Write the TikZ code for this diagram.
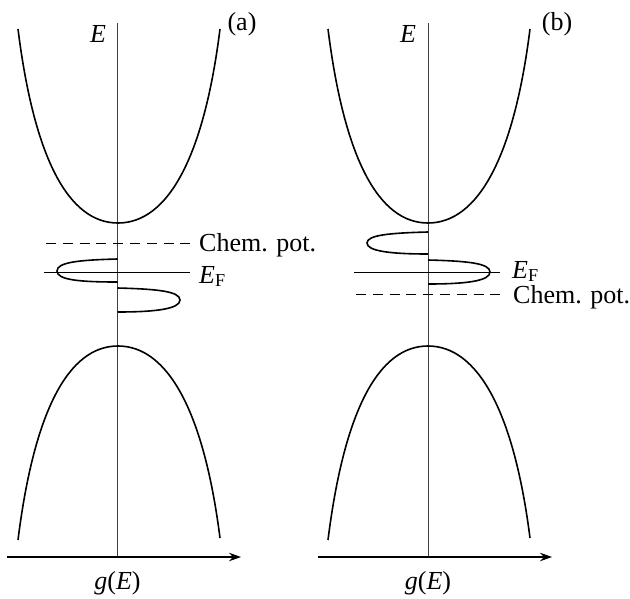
\documentclass[tikz,border=0pt]{standalone}
\usepackage{fontspec}
\setmainfont{Liberation Serif}
\usetikzlibrary{arrows.meta}
\begin{document}
\begin{tikzpicture}[
    x=1pt, y=-1pt,
    band/.style={line width=1.6pt},
    dos/.style={line width=1.6pt},
    level/.style={line width=0.9pt},
    chempot/.style={line width=0.9pt, dash pattern=on 10pt off 6.8pt},
    eaxis/.style={line width=0.9pt, black!75},
    gaxis/.style={line width=1.2pt, -{Stealth[length=12pt, width=8.5pt]}},
    lbl/.style={font=\fontsize{26}{30}\selectfont, inner sep=0pt}
]
    \useasboundingbox (0,0) rectangle (630,598);

    % Panel (a)
    \coordinate (aTop) at (117.5,23);
    \coordinate (aBot) at (117.5,557);
    \coordinate (aL) at (7,557);
    \coordinate (aR) at (241,557);
    \draw[eaxis] (aTop) -- (aBot);
    \draw[gaxis] (aL) -- (aR);
    \draw[band] (18,29) .. controls (34,157) and (68,223) .. (118,223) .. controls (168,223) and (204,157) .. (220,29);
    \draw[band] (18,540) .. controls (34,412) and (68,346) .. (118,346) .. controls (168,346) and (204,412) .. (220,538);
    \draw[dos] (117.5,259) .. controls (80,260) and (57,262) .. (57,271) .. controls (57,280) and (80,282) .. (117.5,282);
    \draw[dos] (117.5,288) .. controls (155,289) and (180,291) .. (180,300) .. controls (180,309) and (155,312) .. (117.5,312);
    \coordinate (aMl) at (46,243);
    \coordinate (aMr) at (190,243);
    \coordinate (aFl) at (44,272);
    \coordinate (aFr) at (190,272);
    \draw[chempot] (aMl) -- (aMr);
    \draw[level] (aFl) -- (aFr);
    \node[lbl, anchor=base west] (aMu) at (199,251) {Chem. pot.};
    \node[lbl, anchor=base west] (aEF) at (199,283) {\textit{E}\textsubscript{F}};
    \node[lbl, anchor=base] (aE) at (98,42) {\textit{E}};
    \node[lbl] (aTag) at (242,24) {(a)};
    \node[lbl] (aG) at (117.5,583) {\textit{g}(\textit{E})};

    % Panel (b)
    \coordinate (bTop) at (428,23);
    \coordinate (bBot) at (428,557);
    \coordinate (bL) at (318,557);
    \coordinate (bR) at (552,557);
    \draw[eaxis] (bTop) -- (bBot);
    \draw[gaxis] (bL) -- (bR);
    \draw[band] (328,29) .. controls (344,157) and (378,223) .. (428,223) .. controls (478,223) and (514,157) .. (530,29);
    \draw[band] (328,540) .. controls (344,412) and (378,346) .. (428,346) .. controls (478,346) and (514,412) .. (530,538);
    \draw[dos] (428,232) .. controls (390,233) and (367,235) .. (367,243) .. controls (367,251) and (390,254) .. (428,254);
    \draw[dos] (428,260) .. controls (466,261) and (490,263) .. (490,272) .. controls (490,281) and (466,284) .. (428,284);
    \coordinate (bFl) at (354,272);
    \coordinate (bFr) at (500,272);
    \coordinate (bMl) at (356,294);
    \coordinate (bMr) at (500,294);
    \draw[level] (bFl) -- (bFr);
    \draw[chempot] (bMl) -- (bMr);
    \node[lbl, anchor=base west] (bEF) at (512,278) {\textit{E}\textsubscript{F}};
    \node[lbl, anchor=base west] (bMu) at (513,303) {Chem. pot.};
    \node[lbl, anchor=base] (bE) at (408,42) {\textit{E}};
    \node[lbl] (bTag) at (557,24) {(b)};
    \node[lbl] (bG) at (428,583) {\textit{g}(\textit{E})};
\end{tikzpicture}
\end{document}
